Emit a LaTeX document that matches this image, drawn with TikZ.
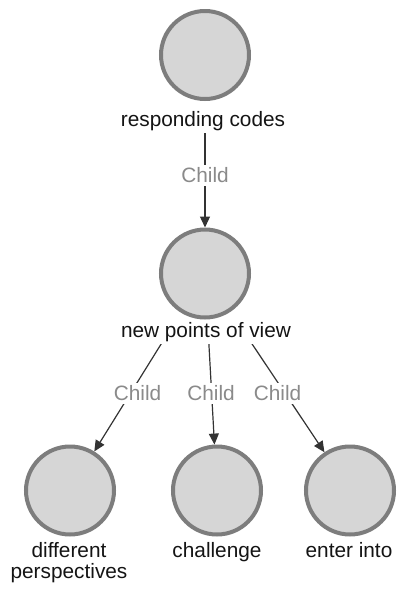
\documentclass[tikz,border=0pt]{standalone}
\usepackage{fontspec}
\setmainfont{Liberation Sans}
\usetikzlibrary{arrows.meta,backgrounds}

\definecolor{ringgray}{HTML}{7D7D7D}
\definecolor{discfill}{HTML}{D6D6D6}
\definecolor{edgegray}{HTML}{333333}
\definecolor{relgray}{HTML}{8A8A8A}
\definecolor{textink}{HTML}{141414}

\tikzset{
  concept/.style={circle, draw=ringgray, fill=discfill, line width=4pt,
    minimum size=88pt, inner sep=0pt},
  labelfont/.style={font=\fontsize{20.8}{21}\selectfont},
  % captions under nodes that have outgoing links: a white box hides the link behind the text
  caption/.style={labelfont, anchor=base, fill=white, text=textink,
    inner xsep=2pt, inner ysep=0pt, text height=26pt, text depth=7pt},
  leafcaption/.style={labelfont, anchor=base, text=textink, align=center, inner sep=0pt},
  link/.style={draw=edgegray, line width=1.2pt, -{Triangle[length=11pt,width=10pt]}},
  rel/.style={labelfont, anchor=north, fill=white, text=relgray, inner sep=3pt}
}

\begin{document}
\begin{tikzpicture}[x=1pt, y=-1pt]
  \useasboundingbox (0,0) rectangle (398,590);

  % captions (base anchor of the two-line caption is its last line)
  \node[caption] (l0) at (203,126) {responding codes};
  \node[caption] (l1) at (206,337) {new points of view};
  \node[leafcaption] (l2) at (69,578) {different\\perspectives};
  \node[leafcaption] (l3) at (217,557) {challenge};
  \node[leafcaption] (l4) at (349,557) {enter into};

  % concept circles
  \node[concept] (c0) at (205,55) {};
  \node[concept] (c1) at (205,273.5) {};
  \node[concept] (c2) at (70,490.5) {};
  \node[concept] (c3) at (217,490.5) {};
  \node[concept] (c4) at (350,490.5) {};

  % parent-child links
  \begin{scope}[on background layer]
    \draw[link] (c0) -- (c1) node[rel, pos=.5] (r1) {Child};
    \draw[link] (c1) -- (c2) node[rel, pos=.5] (r2) {Child};
    \draw[link] (c1) -- (c3) node[rel, pos=.5] (r3) {Child};
    \draw[link] (c1) -- (c4) node[rel, pos=.5] (r4) {Child};
  \end{scope}
\end{tikzpicture}
\end{document}
